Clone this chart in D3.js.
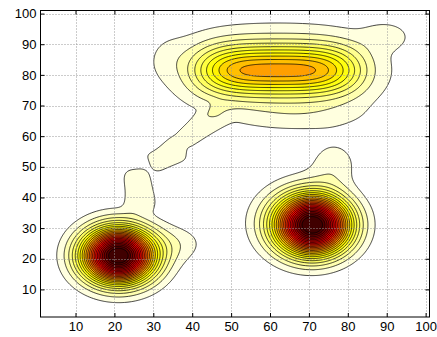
<!DOCTYPE html>
<html>
<head>
<meta charset="utf-8">
<script src="https://cdn.jsdelivr.net/npm/d3@7"></script>
<style>
  body { margin: 0; background: #fff; }
  svg text { font-family: "Liberation Sans", Arial, sans-serif; font-size: 13px; fill: #000; }
</style>
</head>
<body>
<svg id="chart" width="437" height="337"></svg>
<script>
// ---------------- data ----------------
// each bump of the field: centre, half-widths, shape exponents, tilt (deg), height
const bumpName = ["LL core", "LL base", "LL tail", "LL side", "LR core", "LR base", "LR tail",
                  "UP core", "UP broad", "UP base", "UP left", "UP lobe", "UP foot", "UP leg"];
const bumpX    = [21,   22,   26.3, 37,   71,   66,   76.5, 62,   62,   68,   34,   90,   33.3, 41.5];
const bumpY    = [21,   22,   43,   25,   31,   33,   51,   81.5, 81.5, 66,   86,   93,   53.2, 62.1];
const bumpRx   = [8.6,  13,   4.3,  7,    8.9,  12,   6,    20.5, 32,   18,   5,    6,    5.2,  9.65];
const bumpRy   = [8.3,  13,   7.5,  6,    9.1,  12,   7,    8,    16,   5,    7,    4.5,  4.5,  3.8];
const bumpPx   = [2,    2,    3,    2,    2,    2,    2,    4,    2,    2,    2,    2,    6,    4];
const bumpPy   = [2,    2,    4,    2,    2,    2,    2,    2,    2,    2,    2,    2,    4,    4];
const bumpTilt = [0,    0,    8,    0,    0,    0,    0,    0,    0,    0,    0,    0,    30,   44];
const bumpAmp  = [24,   1.0,  1.6,  1.1,  24,   1.3,  1.5,  8.6,  2,    0.8,  0.5,  1.05, 1.25, 1.2];

const levels = [1, 2, 3, 4, 5, 6, 7, 8, 9, 10, 11, 12, 13, 14, 15, 16, 17, 18, 19, 20, 21, 22, 23];
const xTicks = [10, 20, 30, 40, 50, 60, 70, 80, 90, 100];
const yTicks = [10, 20, 30, 40, 50, 60, 70, 80, 90, 100];
const gridMin = 1, gridMax = 101, gridStep = 0.25;

// ---------------- layout ----------------
const pLeft = 40.5, pRight = 429.5, pTop = 10.5, pBottom = 317;
const xs = d3.scaleLinear().domain([gridMin, gridMax]).range([pLeft, pRight]);
const ys = d3.scaleLinear().domain([gridMin, gridMax]).range([pBottom, pTop]);

// ---------------- field on a grid ----------------
function field(x, y) {
  let z = 0;
  for (let i = 0; i < bumpX.length; i++) {
    const a = bumpTilt[i] * Math.PI / 180;
    const dx = x - bumpX[i], dy = y - bumpY[i];
    const u = dx * Math.cos(a) + dy * Math.sin(a);
    const v = -dx * Math.sin(a) + dy * Math.cos(a);
    const e = Math.pow(Math.abs(u / bumpRx[i]), bumpPx[i]) + Math.pow(Math.abs(v / bumpRy[i]), bumpPy[i]);
    z += bumpAmp[i] * Math.exp(-e);
  }
  return z;
}
const n = Math.round((gridMax - gridMin) / gridStep) + 1;
const values = new Array(n * n);
for (let j = 0; j < n; j++)
  for (let i = 0; i < n; i++)
    values[j * n + i] = field(gridMin + i * gridStep, gridMin + j * gridStep);

const zMin = d3.min(values), zMax = d3.max(values);

// flipped "hot" colormap, 64 entries, like matlab
function hotFlip(v) {
  const idx = Math.max(0, Math.min(63, Math.floor((v - zMin) / (zMax - zMin) * 64)));
  const h = 63 - idx;
  const r = h < 24 ? (h + 1) / 24 : 1;
  const g = h < 24 ? 0 : (h < 48 ? (h - 23) / 24 : 1);
  const b = h < 48 ? 0 : (h - 47) / 16;
  return d3.rgb(r * 255, g * 255, b * 255).toString();
}

const contours = d3.contours().size([n, n]).thresholds(levels)(values);

const proj = d3.geoTransform({
  point: function(gx, gy) {
    this.stream.point(xs(gridMin + (gx - 0.5) * gridStep), ys(gridMin + (gy - 0.5) * gridStep));
  }
});
const path = d3.geoPath(proj);

const svg = d3.select("#chart");
svg.append("clipPath").attr("id", "plotclip")
  .append("rect").attr("x", pLeft).attr("y", pTop).attr("width", pRight - pLeft).attr("height", pBottom - pTop);

const plot = svg.append("g").attr("clip-path", "url(#plotclip)");

// fills first, then the contour lines
plot.selectAll("path.fill")
  .data(contours)
  .enter().append("path")
  .attr("class", "fill")
  .attr("d", path)
  .attr("fill", d => hotFlip(d.value))
  .attr("fill-rule", "evenodd")
  .attr("stroke", "none");

plot.selectAll("path.line")
  .data(contours)
  .enter().append("path")
  .attr("class", "line")
  .attr("d", path)
  .attr("fill", "none")
  .attr("stroke", "#000")
  .attr("stroke-width", 0.75);

// ---------------- grid ----------------
const grid = svg.append("g").attr("stroke", "#999").attr("stroke-width", 1).attr("stroke-dasharray", "1,2");
grid.selectAll("line.gx").data(xTicks).enter().append("line")
  .attr("x1", d => Math.round(xs(d)) + 0.5).attr("x2", d => Math.round(xs(d)) + 0.5)
  .attr("y1", pTop).attr("y2", pBottom);
grid.selectAll("line.gy").data(yTicks).enter().append("line")
  .attr("y1", d => Math.round(ys(d)) + 0.5).attr("y2", d => Math.round(ys(d)) + 0.5)
  .attr("x1", pLeft).attr("x2", pRight);

// ---------------- axes ----------------
svg.append("g")
  .attr("transform", "translate(0," + pBottom + ")")
  .call(d3.axisBottom(xs).tickValues(xTicks).tickSizeInner(-4).tickSizeOuter(0).tickPadding(5))
  .call(g => g.select(".domain").remove())
  .call(g => g.selectAll("text").attr("font-size", null).attr("font-family", null));
svg.append("g")
  .attr("transform", "translate(" + pLeft + ",0)")
  .call(d3.axisLeft(ys).tickValues(yTicks).tickSizeInner(-4).tickSizeOuter(0).tickPadding(4))
  .call(g => g.select(".domain").remove())
  .call(g => g.selectAll("text").attr("font-size", null).attr("font-family", null));
svg.append("g")
  .attr("transform", "translate(0," + pTop + ")")
  .call(d3.axisTop(xs).tickValues(xTicks).tickSizeInner(-4).tickSizeOuter(0).tickFormat(""))
  .call(g => g.select(".domain").remove());
svg.append("g")
  .attr("transform", "translate(" + pRight + ",0)")
  .call(d3.axisRight(ys).tickValues(yTicks).tickSizeInner(-4).tickSizeOuter(0).tickFormat(""))
  .call(g => g.select(".domain").remove());

svg.append("rect")
  .attr("x", pLeft).attr("y", pTop).attr("width", pRight - pLeft).attr("height", pBottom - pTop)
  .attr("fill", "none").attr("stroke", "#000").attr("stroke-width", 1);
</script>
</body>
</html>
